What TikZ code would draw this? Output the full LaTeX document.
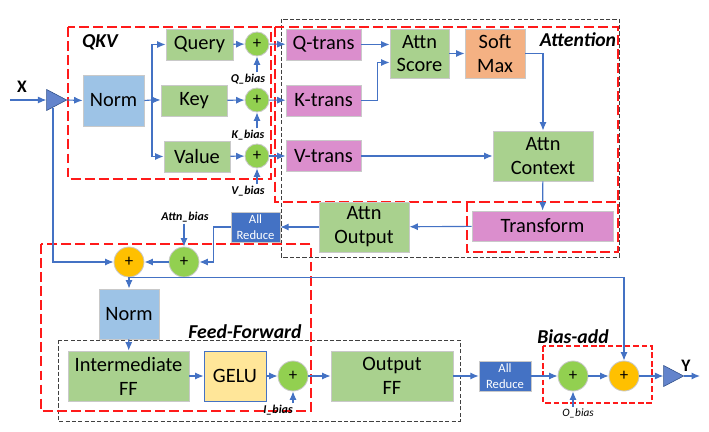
\documentclass[tikz,border=0pt]{standalone}
\usepackage{fontspec}
\setmainfont{Carlito}
\usetikzlibrary{arrows.meta,shapes.geometric}
\definecolor{wire}{HTML}{4472C4}
\definecolor{boxline}{HTML}{C9C9C9}
\definecolor{gbox}{HTML}{A9D18E}
\definecolor{pbox}{HTML}{DB8ECD}
\definecolor{nbox}{HTML}{9DC3E6}
\definecolor{sbox}{HTML}{F4B183}
\definecolor{ybox}{HTML}{FFE699}
\definecolor{rbox}{HTML}{4472C4}
\definecolor{gadd}{HTML}{92D050}
\definecolor{oadd}{HTML}{FFC000}
\definecolor{tri}{HTML}{6384CC}
\definecolor{redline}{HTML}{FF1A1A}
\newcommand{\upx}{0.025cm}
\tikzset{
  >={Latex[length=6pt,width=5pt]},
  wirestyle/.style={draw=wire,line width=0.8pt},
  blk/.style 2 args={draw=boxline,line width=0.6pt,inner sep=0pt,align=center,
    minimum width=#1*\upx,minimum height=#2*\upx,
    font=\fontsize{14.5}{17}\selectfont},
  reduce/.style={draw=boxline,fill=rbox,text=white,inner sep=0pt,align=center,
    minimum width=#1*\upx,minimum height=30*\upx,
    font=\fontsize{9}{11}\selectfont},
  adder/.style={circle,draw=boxline,line width=0.6pt,inner sep=0pt,
    minimum size=#1*\upx,font=\fontsize{12}{12}\selectfont},
  amp/.style={isosceles triangle,isosceles triangle stretches,draw=wire!70!black,
    fill=tri,inner sep=0pt,minimum height=20*\upx,minimum width=21*\upx},
  biaslabel/.style={inner sep=1pt,font=\fontsize{8.5}{9}\selectfont\bfseries\itshape},
  title/.style={inner sep=0pt,font=\fontsize{14}{14}\selectfont\bfseries\itshape},
  redbox/.style={draw=redline,line width=1.4pt,dash pattern=on 7pt off 3pt},
  blackbox/.style={draw=black!75,line width=0.6pt,dash pattern=on 3pt off 1.5pt},
}
\begin{document}
\begin{tikzpicture}[x=\upx,y=-\upx]
\useasboundingbox (0,0) rectangle (709,432);
% dashed group frames
\draw[blackbox] (281,19) rectangle (619,257);
\draw[redbox] (68,27) rectangle (271,179);
\draw[redbox] (275,27) rectangle (618,202);
\draw[redbox] (467,202) rectangle (618,252);
\draw[blackbox] (58,340) rectangle (460,421);
\draw[redbox] (41,244) rectangle (311,411);
\draw[redline,line width=1pt,dash pattern=on 4pt off 2pt] (543,346) rectangle (652,403);
\node[title] (qkvt) at (100,42) {QKV};
\node[title] (attt) at (578,40) {Attention};
\node[title] (fft) at (245,332) {Feed-Forward};
\node[title] (bat) at (573,337) {Bias-add};
% input
\coordinate (xin) at (10,100);
\node[inner sep=0pt,font=\fontsize{12.5}{12}\selectfont\bfseries] (xl) at (22,87) {X};
\node[amp] (amp1) at (53,100) {};
\node[blk={61}{51},fill=nbox] (norm1) at (113.5,100.5) {Norm};
% QKV projections
\node[blk={67}{31},fill=gbox] (query) at (199.5,44.5) {Query};
\node[blk={66}{31},fill=gbox] (key) at (194,100.5) {Key};
\node[blk={66}{31},fill=gbox] (value) at (197,156.5) {Value};
\node[adder=24,fill=gadd] (addq) at (257,44) {+};
\node[adder=24,fill=gadd] (addk) at (257,100) {+};
\node[adder=24,fill=gadd] (addv) at (257,156) {+};
\node[biaslabel] (qb) at (248,79) {Q\_bias};
\node[biaslabel] (kb) at (248,135) {K\_bias};
\node[biaslabel] (vb) at (248,191) {V\_bias};
% attention
\node[blk={75}{31},fill=pbox] (qtrans) at (323.5,44.5) {Q-trans};
\node[blk={75}{31},fill=pbox] (ktrans) at (323.5,100.5) {K-trans};
\node[blk={75}{31},fill=pbox] (vtrans) at (323.5,156) {V-trans};
\node[blk={59}{49},fill=gbox] (score) at (419.5,53.5) {Attn\\Score};
\node[blk={60}{49},fill=sbox] (softmax) at (495,53.5) {Soft\\Max};
\node[blk={100}{50},fill=gbox] (context) at (543,156) {Attn\\Context};
\node[blk={141}{30},fill=pbox] (transform) at (542.5,226) {Transform};
\node[blk={90}{50},fill=gbox] (attnout) at (364,227) {Attn\\Output};
\node[reduce=49] (ar1) at (255.5,227) {All\\Reduce};
\node[biaslabel] (ab) at (185,217) {Attn\_bias};
\node[adder=30,fill=gadd] (addb) at (184,262) {+};
\node[adder=30,fill=oadd] (addr) at (129,262) {+};
% feed-forward
\node[blk={60}{50},fill=nbox] (norm2) at (129,314) {Norm};
\node[blk={121}{50},fill=gbox] (inter) at (128.5,376) {Intermediate\\FF};
\node[blk={62}{50},fill=ybox,draw=wire] (gelu) at (235,376) {GELU};
\node[adder=30,fill=gadd] (addi) at (293,376) {+};
\node[biaslabel] (ib) at (278,410) {I\_bias};
\node[blk={122}{50},fill=gbox] (outff) at (392,376) {Output\\FF};
\node[reduce=52] (ar2) at (505,376) {All\\Reduce};
% bias-add
\node[adder=30,fill=gadd] (addo) at (573,376) {+};
\node[adder=30,fill=oadd] (addy) at (624,376) {+};
\node[inner sep=1pt,font=\fontsize{8}{8}\selectfont\itshape] (ob) at (578,413) {O\_bias};
\node[amp] (amp2) at (670,376) {};
\node[inner sep=0pt,font=\fontsize{12.5}{12}\selectfont\bfseries] (yl) at (686,366) {Y};
\coordinate (yout) at (700,376);
% connectors
\draw[wirestyle,->] (xin) -- (amp1.west);
\draw[wirestyle,->] (amp1.east) -- (norm1.west);
\coordinate (split) at (152,100);
\draw[wirestyle] (norm1.east) -- (split);
\draw[wirestyle,->] (split) |- (query.west);
\draw[wirestyle,->] (split) -- (split -| key.west);
\draw[wirestyle,->] (split) |- (value.west);
\draw[wirestyle,->] (query) -- (addq);
\draw[wirestyle,->] (key) -- (addk);
\draw[wirestyle,->] (value) -- (addv);
\draw[wirestyle,->] (addq.south |- qb.north) -- (addq.south);
\draw[wirestyle,->] (addk.south |- kb.north) -- (addk.south);
\draw[wirestyle,->] (addv.south |- vb.north) -- (addv.south);
\draw[wirestyle,->] (addq) -- (qtrans);
\draw[wirestyle,->] (addk) -- (ktrans);
\draw[wirestyle,->] (addv) -- (vtrans);
\draw[wirestyle,->] (qtrans.east) -- (qtrans.east -| score.west);
\draw[wirestyle,->] (ktrans.east) -- ++(16,0) |- ([yshift=-9*\upx]score.west);
\draw[wirestyle,->] (score) -- (softmax);
\draw[wirestyle,->] (softmax.east) -| (context.north);
\draw[wirestyle,->] (vtrans.east) -- (vtrans.east -| context.west);
\draw[wirestyle,->] (context) -- (transform);
\draw[wirestyle,->] (transform) -- (attnout);
\draw[wirestyle,->] (attnout) -- (ar1);
\draw[wirestyle,->] (ar1.west) -- ++(-17,0) |- (addb.east);
\draw[wirestyle,->] (addb.north |- ab.south) -- (addb.north);
\draw[wirestyle,->] (addb) -- (addr);
\draw[wirestyle,->] (amp1.center |- amp1.south) |- (addr.west);
\draw[wirestyle,->] (addr) -- (norm2);
\draw[wirestyle,->] (addr.south) -| (addy.north);
\draw[wirestyle,->] (norm2) -- (inter);
\draw[wirestyle,->] (inter) -- (gelu);
\draw[wirestyle,->] (gelu) -- (addi);
\draw[wirestyle,->] (addi.south |- ib.north) -- (addi.south);
\draw[wirestyle,->] (addi) -- (outff);
\draw[wirestyle,->] (outff) -- (ar2);
\draw[wirestyle,->] (ar2) -- (addo);
\draw[wirestyle,->] (addo.south |- ob.north) -- (addo.south);
\draw[wirestyle,->] (addo) -- (addy);
\draw[wirestyle,->] (addy) -- (amp2.west);
\draw[wirestyle,->] (amp2.east) -- (yout);
\end{tikzpicture}
\end{document}
